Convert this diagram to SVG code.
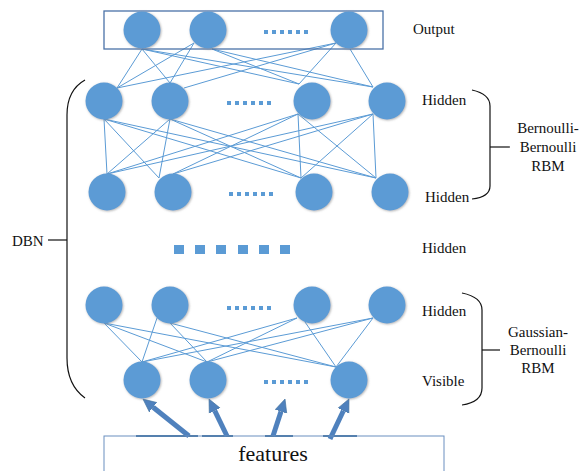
<svg xmlns="http://www.w3.org/2000/svg" width="582" height="471" viewBox="0 0 582 471">
  <defs>
    <filter id="soft" x="-30%" y="-30%" width="160%" height="160%">
      <feDropShadow dx="0.8" dy="0.8" stdDeviation="1" flood-color="#7a7a7a" flood-opacity="0.6"/>
    </filter>
    <marker id="head" markerUnits="userSpaceOnUse" markerWidth="14" markerHeight="14" refX="0" refY="7" orient="auto" viewBox="0 0 14 14">
      <path d="M0,1 L13,7 L0,13 Z" fill="#4f81bd" stroke="#41719c" stroke-width="0.6"/>
    </marker>
    <style>
      .n { fill: #5b9bd5; filter: url(#soft); }
      .e { stroke: #5b9bd5; stroke-width: 1; fill: none; }
      .dots { stroke: #5b9bd5; stroke-width: 4; stroke-dasharray: 4 4; }
      .lbl { font-family: "Liberation Serif", "Times New Roman", serif; font-size: 15px; fill: #111; }
      .brk { stroke: #111; stroke-width: 1.2; fill: none; }
      .arr { stroke: #4f81bd; stroke-width: 5; marker-end: url(#head); }
      .base { stroke: #41719c; stroke-width: 2; }
    </style>
  </defs>

  <!-- connectors -->
  <g id="connectors">
    <!-- output layer to first hidden layer -->
    <path class="e" d="M142,49 L117,88 M142,49 L170,83 M142,49 L299,84 M142,49 L373,87"/>
    <path class="e" d="M194,43 L117,88 M194,43 L170,83 M212,49 L299,84 M212,49 L373,87"/>
    <path class="e" d="M336,43 L117,88 M336,43 L184,88 M336,43 L299,84 M350,49 L373,87"/>
    <!-- first hidden layer to second hidden layer -->
    <path class="e" d="M104,119 L107,174 M104,119 L159,178 M104,119 L301,178 M104,119 L376,178"/>
    <path class="e" d="M170,119 L107,174 M170,119 L159,178 M170,119 L301,178 M170,119 L376,178"/>
    <path class="e" d="M298,114 L107,174 M298,114 L173,174 M298,114 L301,178 M298,114 L376,178"/>
    <path class="e" d="M373,114 L107,174 M373,114 L173,174 M373,114 L301,178 M373,114 L376,178"/>
    <!-- last hidden layer to visible layer -->
    <path class="e" d="M104,323 L142,362 M104,323 L207,362 M104,323 L336,367"/>
    <path class="e" d="M157,318 L142,362 M170,323 L207,362 M170,323 L336,367"/>
    <path class="e" d="M297,318 L142,362 M297,318 L207,362 M305,322 L336,367"/>
    <path class="e" d="M373,318 L142,362 M373,318 L207,362 M373,318 L336,367"/>
    <!-- feature inputs -->
    <path class="base" d="M136,436 H198 M202,436 H233 M265,436 H293 M323,436 H357"/>
    <line class="arr" x1="189" y1="436" x2="153.1" y2="407.2"/>
    <line class="arr" x1="227" y1="436" x2="214.7" y2="410.7"/>
    <line class="arr" x1="273" y1="436" x2="281" y2="411.4"/>
    <line class="arr" x1="330" y1="439" x2="343.4" y2="410.7"/>
  </g>

  <!-- output layer -->
  <g id="output">
    <rect x="104" y="11" width="279" height="38" fill="none" stroke="#4a72a8" stroke-width="1.3"/>
    <circle class="n" cx="142" cy="30" r="18.5"/>
    <circle class="n" cx="208" cy="30" r="18.5"/>
    <line class="dots" x1="264" y1="32" x2="308" y2="32"/>
    <circle class="n" cx="349" cy="30" r="18.5"/>
    <text class="lbl" x="413" y="34">Output</text>
  </g>

  <!-- first hidden layer -->
  <g id="hidden1">
    <circle class="n" cx="104" cy="101" r="18.5"/>
    <circle class="n" cx="170" cy="101" r="18.5"/>
    <line class="dots" x1="227" y1="103" x2="271" y2="103"/>
    <circle class="n" cx="312" cy="101" r="18.5"/>
    <circle class="n" cx="387" cy="101" r="18.5"/>
    <text class="lbl" x="422" y="105">Hidden</text>
  </g>

  <!-- second hidden layer -->
  <g id="hidden2">
    <circle class="n" cx="107" cy="192" r="18.5"/>
    <circle class="n" cx="173" cy="192" r="18.5"/>
    <line class="dots" x1="229" y1="194" x2="273" y2="194"/>
    <circle class="n" cx="314" cy="192" r="18.5"/>
    <circle class="n" cx="390" cy="192" r="18.5"/>
    <text class="lbl" x="425" y="202">Hidden</text>
  </g>

  <!-- intermediate layers -->
  <g id="middle" fill="#5b9bd5">
    <rect x="174" y="245" width="10" height="9"/>
    <rect x="195" y="245" width="10" height="9"/>
    <rect x="216" y="245" width="10" height="9"/>
    <rect x="238" y="245" width="10" height="9"/>
    <rect x="259" y="245" width="10" height="9"/>
    <rect x="280" y="245" width="10" height="9"/>
    <text class="lbl" x="422" y="253">Hidden</text>
  </g>

  <!-- last hidden layer -->
  <g id="hidden3">
    <circle class="n" cx="104" cy="305" r="18.5"/>
    <circle class="n" cx="170" cy="305" r="18.5"/>
    <line class="dots" x1="227" y1="308" x2="271" y2="308"/>
    <circle class="n" cx="312" cy="305" r="18.5"/>
    <circle class="n" cx="387" cy="305" r="18.5"/>
    <text class="lbl" x="422" y="316">Hidden</text>
  </g>

  <!-- visible layer -->
  <g id="visible">
    <circle class="n" cx="142" cy="380" r="18.5"/>
    <circle class="n" cx="208" cy="380" r="18.5"/>
    <line class="dots" x1="264" y1="382" x2="308" y2="382"/>
    <circle class="n" cx="349" cy="380" r="18.5"/>
    <text class="lbl" x="422" y="386">Visible</text>
  </g>

  <!-- feature input box -->
  <g id="features">
    <rect x="104" y="436" width="340" height="45" fill="none" stroke="#6a8fc0" stroke-width="1"/>
    <text x="273" y="461" text-anchor="middle" font-family="'Liberation Serif', 'Times New Roman', serif" font-size="22" fill="#111">features</text>
  </g>

  <!-- DBN brace -->
  <g id="dbn">
    <path class="brk" d="M85,80 Q67,90 67,115 L67,358 Q67,385 85,398"/>
    <path class="brk" d="M48,240 H67"/>
    <text class="lbl" x="12" y="246">DBN</text>
  </g>

  <!-- Bernoulli-Bernoulli RBM brace -->
  <g id="bb-rbm">
    <path class="brk" d="M472,90 Q490,94 490,106 L490,186 Q490,197 472,199"/>
    <path class="brk" d="M490,147 H510"/>
    <text class="lbl" text-anchor="middle" x="548" y="133">Bernoulli-</text>
    <text class="lbl" text-anchor="middle" x="548" y="152">Bernoulli</text>
    <text class="lbl" text-anchor="middle" x="548" y="171">RBM</text>
  </g>

  <!-- Gaussian-Bernoulli RBM brace -->
  <g id="gb-rbm">
    <path class="brk" d="M462,293 Q482,297 482,310 L482,388 Q482,402 462,405"/>
    <path class="brk" d="M482,350 H500"/>
    <text class="lbl" text-anchor="middle" x="538" y="337">Gaussian-</text>
    <text class="lbl" text-anchor="middle" x="538" y="355">Bernoulli</text>
    <text class="lbl" text-anchor="middle" x="538" y="373">RBM</text>
  </g>
</svg>
